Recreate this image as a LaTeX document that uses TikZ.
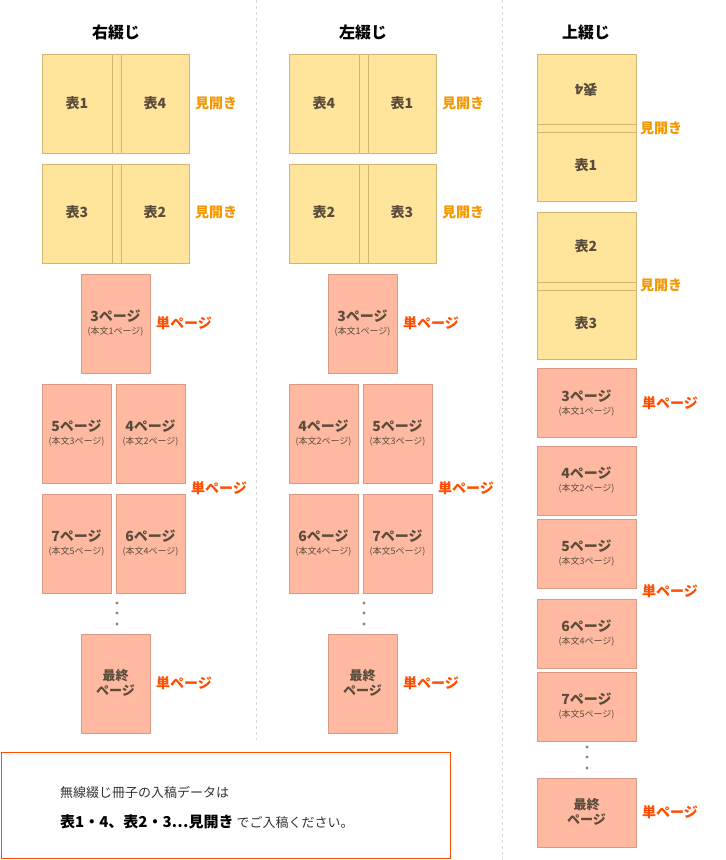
\documentclass[tikz,border=0pt]{standalone}
\usepackage{fontspec}
\setmainfont{Noto Sans CJK JP}
\newfontfamily\jpb{Noto Sans CJK JP}[BoldFont={Noto Sans CJK JP Bold}]
\definecolor{yfill}{HTML}{FFE49B}
\definecolor{ydraw}{HTML}{D2B56E}
\definecolor{pfill}{HTML}{FFB9A0}
\definecolor{pdraw}{HTML}{D99A85}
\definecolor{txt}{HTML}{5A4C3C}
\definecolor{olab}{HTML}{F39800}
\definecolor{rlab}{HTML}{FF4E00}
\definecolor{sep}{HTML}{D8D8D8}
\begin{document}
\begin{tikzpicture}[x=1pt,y=-1pt,
  ybox/.style={draw=ydraw,fill=yfill,line width=0.8pt},
  pbox/.style={draw=pdraw,fill=pfill,line width=0.8pt},
  spine/.style={draw=ydraw,line width=0.8pt},
  ytext/.style={text=txt,font=\fontsize{14}{16}\selectfont\bfseries},
  ptext/.style={text=txt,align=center,inner sep=0pt},
  ttl/.style={font=\fontsize{16}{18}\selectfont\bfseries,text=black},
  olabel/.style={anchor=west,text=olab,font=\fontsize{14}{16}\selectfont\bfseries,inner sep=0pt},
  rlabel/.style={anchor=west,text=rlab,font=\fontsize{14}{16}\selectfont\bfseries,inner sep=0pt},
  dotc/.style={fill=txt!70},
  sepl/.style={draw=sep,dashed,line width=0.8pt}]
\useasboundingbox (0,0) rectangle (726,860);
\newcommand{\pg}[2]{{\fontsize{14}{15}\selectfont\bfseries #1ページ}\\[1pt]{\fontsize{9}{10}\selectfont (本文#2ページ)}}
% separators
\draw[sepl] (256,0) -- (256,740);
\draw[sepl] (502,0) -- (502,860);
% titles
\node[ttl] (t1) at (116,32) {右綴じ};
\node[ttl] (t2) at (363,32) {左綴じ};
\node[ttl] (t3) at (586,32) {上綴じ};
% ---- left & middle columns
\foreach \ox/\a/\b/\c/\d/\e/\f/\g/\h/\ea/\eb/\ga/\gb in {0/表1/表4/表3/表2/5/4/7/6/3/2/5/4, 247/表4/表1/表2/表3/4/5/6/7/2/3/4/5}{
  \begin{scope}[xshift=\ox]
  \draw[ybox] (42,54) rectangle (189,153);
  \draw[spine] (112,54) -- (112,153) (121,54) -- (121,153);
  \node[ytext] at (77,103) {\a};
  \node[ytext] at (155,103) {\b};
  \node[olabel] at (195,103) {見開き};
  \draw[ybox] (42,164) rectangle (189,263);
  \draw[spine] (112,164) -- (112,263) (121,164) -- (121,263);
  \node[ytext] at (77,212) {\c};
  \node[ytext] at (155,212) {\d};
  \node[olabel] at (195,212) {見開き};
  \draw[pbox] (81,274) rectangle (150,373);
  \node[ptext] at (115.5,323) {\pg{3}{1}};
  \node[rlabel] at (156,323) {単ページ};
  \draw[pbox] (42,384) rectangle (111,483);
  \node[ptext] at (76.5,433) {\pg{\e}{\ea}};
  \draw[pbox] (116,384) rectangle (185,483);
  \node[ptext] at (150.5,433) {\pg{\f}{\eb}};
  \draw[pbox] (42,494) rectangle (111,593);
  \node[ptext] at (76.5,543) {\pg{\g}{\ga}};
  \draw[pbox] (116,494) rectangle (185,593);
  \node[ptext] at (150.5,543) {\pg{\h}{\gb}};
  \node[rlabel] at (191,488) {単ページ};
  \fill[dotc] (117,603) circle (1.6) (117,613) circle (1.6) (117,624) circle (1.6);
  \draw[pbox] (81,634) rectangle (150,733);
  \node[ptext,font=\fontsize{13}{15}\selectfont\bfseries] at (115.5,683) {最終\\ページ};
  \node[rlabel] at (156,683) {単ページ};
  \end{scope}}
% ---- right column
\draw[ybox] (537,54) rectangle (636,201);
\draw[spine] (537,124) -- (636,124) (537,132) -- (636,132);
\node[ytext,rotate=180] at (586,90) {表4};
\node[ytext] at (586,165) {表1};
\node[olabel] at (640,128) {見開き};
\draw[ybox] (537,212) rectangle (636,359);
\draw[spine] (537,282) -- (636,282) (537,290) -- (636,290);
\node[ytext] at (586,246) {表2};
\node[ytext] at (586,323) {表3};
\node[olabel] at (640,285) {見開き};
\draw[pbox] (537,368) rectangle (636,437);
\node[ptext] at (586.5,403) {\pg{3}{1}};
\node[rlabel] at (642,403) {単ページ};
\foreach \t/\n/\m in {446/4/2, 519/5/3, 599/6/4, 672/7/5}{
  \draw[pbox] (537,\t) rectangle (636,\t+69);
  \node[ptext] at (586.5,\t+34.5) {\pg{\n}{\m}};}
\node[rlabel] at (642,591) {単ページ};
\fill[dotc] (587,747) circle (1.6) (587,757) circle (1.6) (587,768) circle (1.6);
\draw[pbox] (537,778) rectangle (636,847);
\node[ptext,font=\fontsize{13}{15}\selectfont\bfseries] at (586.5,812) {最終\\ページ};
\node[rlabel] at (642,812) {単ページ};
% ---- note box
\draw[draw=rlab,line width=1pt] (1,752) rectangle (450,858);
\node[anchor=west,inner sep=0pt,font=\fontsize{13}{15}\selectfont,text=black!80] (n1) at (60,792) {無線綴じ冊子の入稿データは};
\node[anchor=west,inner sep=0pt,font=\fontsize{13}{15}\selectfont,text=black!80] (n2) at (60,822) {{\fontsize{15}{17}\selectfont\bfseries\color{black}表1・4、表2・3…見開き} でご入稿ください。};
\end{tikzpicture}
\end{document}
